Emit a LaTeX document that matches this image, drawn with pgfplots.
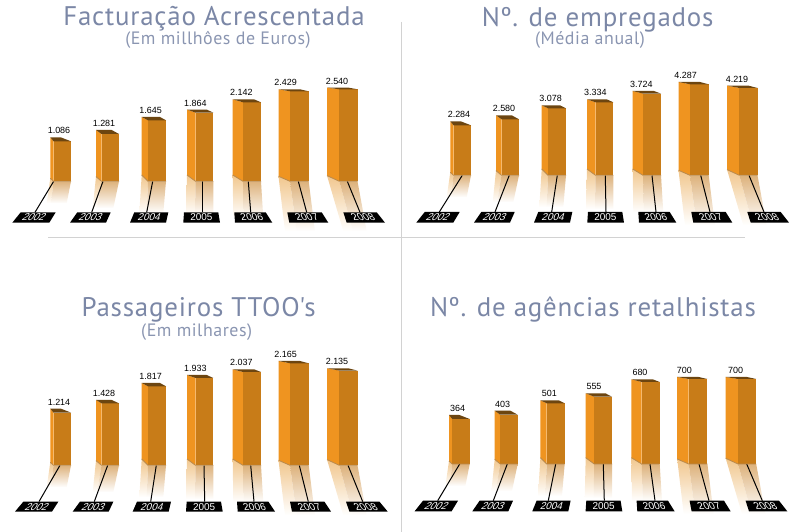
\documentclass[border=0pt]{standalone}
\usepackage{fontspec}
\usepackage{pgfplots}
\pgfplotsset{compat=1.18}
\setmainfont{Liberation Sans}
\newfontfamily\titlefont[LetterSpace=3]{PT Sans}
\definecolor{titleblue}{HTML}{7B87A6}
\definecolor{subblue}{HTML}{8A95B1}
\definecolor{rulegrey}{HTML}{D2D2D2}
\definecolor{barleft}{HTML}{EF9420}
\definecolor{barright}{HTML}{C87C18}
\definecolor{bartop}{HTML}{6C4510}
\definecolor{baseedge}{HTML}{B98A4E}
\definecolor{shadeL}{HTML}{F1C78E}
\definecolor{shadeR}{HTML}{DDB27C}

% panel axes: 1 unit = 1 px, y measured from the foot of the bars
\pgfplotsset{panel/.style={
    scale only axis, width=400bp, height=200bp,
    xmin=0, xmax=400, ymin=-60, ymax=140,
    hide axis, clip=false, anchor=south west}}

% L M R leftbase footL footM footR depth
\newcommand\drawshadow[8]{%
  \addplot[draw=none, top color=shadeL, middle color=shadeL!70!white, bottom color=white] coordinates {(#1,#4) (#2,0) (#6,-#8) (#5,-#8)} --cycle;
  \addplot[draw=none, top color=shadeR, middle color=shadeR!70!white, bottom color=white] coordinates {(#2,0) (#3,0) (#7,-#8) (#6,-#8)} --cycle;
}
% L M R back leftbase topleft topright
\newcommand\drawbar[7]{%
  \addplot[fill=barleft, draw=none] coordinates {(#1,#5) (#2,0) (#2,#7) (#1,#6)} --cycle;
  \addplot[fill=barright, draw=none] coordinates {(#2,0) (#3,0) (#3,#7) (#2,#7)} --cycle;
  \addplot[fill=bartop, draw=none] coordinates {(#1,#6) (#4,#6) (#3,#7) (#2,#7)} --cycle;
  \addplot[draw=baseedge, line width=.8bp] coordinates {(#1,#5) (#2,0) (#3,0)};
}
% bottomleft topleft topright bottomright textx slant year
\newcommand\drawtag[7]{%
  \addplot[fill=black, draw=none, xshift=\tagS bp] coordinates {(#1,\tagB) (#2,\tagT) (#3,\tagT) (#4,\tagB)} --cycle;
  \node[text=white, font=\fontsize{10}{10}\selectfont, inner sep=0pt, xshift=\tagS bp, xslant=#6] at (#5,\tagM) {#7};
}
\newcommand\drawstem[2]{\addplot[black, line width=1bp] coordinates {(#1,0) (#2,\tagT)};}
\newcommand\drawvalue[3]{\node[anchor=base, inner sep=0pt, font=\fontsize{9}{9}\selectfont] at (#1,#2+3.5) {#3};}

% one macro per year: topleft topright label stemtop stembottom
\newcommand\yearA[5]{%
  \drawshadow{50.3}{53.5}{71}{3}{46.7}{51}{66.7}{22}\drawstem{#4}{#5}%
  \drawtag{12.3}{20.7}{55.7}{49.3}{34.5}{.6}{2002}%
  \drawbar{50.3}{53.5}{71}{60.7}{3}{#1}{#2}\drawvalue{59}{#1}{#3}}
\newcommand\yearB[5]{%
  \drawshadow{96}{101.5}{119}{4.7}{92.7}{97}{113.3}{27}\drawstem{#4}{#5}%
  \drawtag{70}{77.3}{110.7}{106}{91}{.5}{2003}%
  \drawbar{96}{101.5}{119}{111.7}{4.7}{#1}{#2}\drawvalue{104}{#1}{#3}}
\newcommand\yearC[5]{%
  \drawshadow{141.7}{148}{166}{6.3}{139.3}{146.7}{163.3}{32}\drawstem{#4}{#5}%
  \drawtag{130}{134.3}{168.3}{166}{149.6}{.3}{2004}%
  \drawbar{141.7}{148}{166}{160}{6.3}{#1}{#2}\drawvalue{150.7}{#1}{#3}}
\newcommand\yearD[5]{%
  \drawshadow{187}{195.5}{213.3}{6.3}{186}{195}{213.3}{34}\drawstem{#4}{#5}%
  \drawtag{183.3}{184}{218.3}{220}{201.4}{0}{2005}%
  \drawbar{187}{195.5}{213.3}{206.7}{6.3}{#1}{#2}\drawvalue{195.3}{#1}{#3}}
\newcommand\yearE[5]{%
  \drawshadow{232.7}{243}{261}{6.3}{233.3}{244}{263.3}{37}\drawstem{#4}{#5}%
  \drawtag{235}{234.3}{265.7}{272.3}{251.8}{-.3}{2006}%
  \drawbar{232.7}{243}{261}{254}{6.3}{#1}{#2}\drawvalue{241.3}{#1}{#3}}
\newcommand\yearF[5]{%
  \drawshadow{278.5}{290}{308.7}{5}{285}{296.7}{315}{50}\drawstem{#4}{#5}%
  \drawtag{289.3}{287.3}{321.7}{328.3}{306.7}{-.45}{2007}%
  \drawbar{278.5}{290}{308.7}{300}{5}{#1}{#2}\drawvalue{285.7}{#1}{#3}}
\newcommand\yearG[5]{%
  \drawshadow{327}{339.3}{357.5}{5.7}{343.3}{353}{366.7}{50}\drawstem{#4}{#5}%
  \drawtag{346.7}{343.3}{376.7}{385}{363}{-.6}{2008}%
  \drawbar{327}{339.3}{357.5}{348.3}{5.7}{#1}{#2}\drawvalue{337}{#1}{#3}}

\begin{document}
\begin{tikzpicture}
\useasboundingbox (0,0) rectangle (808bp,532bp);
% page frame: rules and titles, in picture pixels
\begin{axis}[
    scale only axis, width=808bp, height=532bp,
    xmin=0, xmax=808, ymin=0, ymax=532, y dir=reverse,
    hide axis, clip=false, anchor=south west, at={(0,0)},
]
\addplot[rulegrey, line width=1bp] coordinates {(401,22) (401,532)};
\addplot[rulegrey, line width=1bp] coordinates {(48,237) (745,237)};
\node[anchor=base, inner sep=0pt, text=titleblue, font=\titlefont\fontsize{27}{27}\selectfont] at (214,26) {Facturação Acrescentada};
\node[anchor=base, inner sep=0pt, text=subblue, font=\titlefont\fontsize{18}{18}\selectfont] at (218,45) {(Em millhôes de Euros)};
\node[anchor=base, inner sep=0pt, text=titleblue, font=\titlefont\fontsize{27}{27}\selectfont] at (597.7,27) {Nº. de empregados};
\node[anchor=base, inner sep=0pt, text=subblue, font=\titlefont\fontsize{18}{18}\selectfont] at (590,45) {(Média anual)};
\node[anchor=base, inner sep=0pt, text=titleblue, font=\titlefont\fontsize{27}{27}\selectfont] at (198.7,316.7) {Passageiros TTOO's};
\node[anchor=base, inner sep=0pt, text=subblue, font=\titlefont\fontsize{18}{18}\selectfont] at (196.7,336.7) {(Em milhares)};
\node[anchor=base, inner sep=0pt, text=titleblue, font=\titlefont\fontsize{27}{27}\selectfont] at (593,316.7) {Nº. de agências retalhistas};
\end{axis}

% Facturacao
\def\tagT{-31}\def\tagB{-41.4}\def\tagM{-36.2}\def\tagS{0}
\begin{axis}[panel, at={(0bp,290.7bp)}]
\yearA{44}{40}{1.086}{53.7}{35}
\yearB{51.3}{47.3}{1.281}{103}{91.7}
\yearC{64.3}{61}{1.645}{152.7}{146.7}
\yearD{71.7}{68.7}{1.864}{202}{202}
\yearE{82}{79}{2.142}{248.3}{250.7}
\yearF{92}{90}{2.429}{298.3}{306.7}
\yearG{93.7}{92}{2.540}{347.3}{360}
\end{axis}

% Empregados
\def\tagT{-36.7}\def\tagB{-47.3}\def\tagM{-42}\def\tagS{4}
\begin{axis}[panel, at={(400bp,296.7bp)}]
\yearA{54}{50}{2.284}{62.3}{39.3}
\yearB{60}{56}{2.580}{109.3}{95}
\yearC{70}{67}{3.078}{157.3}{151.7}
\yearD{76}{73}{3.334}{205.3}{206}
\yearE{84.3}{81.7}{3.724}{252}{256}
\yearF{93.3}{91}{4.287}{300.7}{310}
\yearG{89.7}{87.3}{4.219}{349}{364}
\end{axis}

% Passageiros
\def\tagT{-36.3}\def\tagB{-46.3}\def\tagM{-41.3}\def\tagS{2.7}
\begin{axis}[panel, at={(0bp,6.7bp)}]
\yearA{56.7}{52.7}{1.214}{60}{39}
\yearB{65.3}{62}{1.428}{107.7}{94.3}
\yearC{82.3}{79}{1.817}{156.3}{150.7}
\yearD{90.3}{87.3}{1.933}{204}{204.7}
\yearE{96}{93.3}{2.037}{250.7}{254}
\yearF{104.3}{102}{2.165}{299.3}{308.3}
\yearG{97}{94.7}{2.135}{348}{362.7}
\end{axis}

% Agencias
\def\tagT{-36.7}\def\tagB{-47.3}\def\tagM{-42}\def\tagS{3.6}
\begin{axis}[panel, at={(398.7bp,8bp)}]
\yearA{49}{45}{364}{61}{39}
\yearB{53.3}{49.3}{403}{108.6}{94.6}
\yearC{63.7}{60.7}{501}{157}{149.6}
\yearD{70.7}{67.3}{555}{204.6}{205.6}
\yearE{84.7}{82}{680}{251.3}{256.3}
\yearF{87}{85}{700}{300.3}{310.3}
\yearG{87}{85}{700}{348}{363.6}
\end{axis}
\end{tikzpicture}
\end{document}
